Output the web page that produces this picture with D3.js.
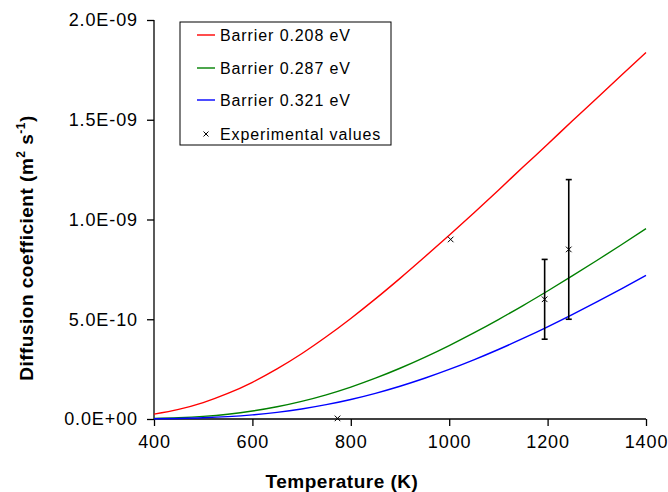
<!DOCTYPE html>
<html>
<head>
<meta charset="utf-8">
<script src="https://cdn.jsdelivr.net/npm/d3@7"></script>
<style>
  body { margin: 0; background: #fff; }
  text { font-family: "Liberation Sans", Arial, sans-serif; fill: #000; }
</style>
</head>
<body>
<div id="chart"></div>
<script>
// temperatures (K) the curves are sampled at
const temps = [400, 450, 500, 550, 600, 650, 700, 750, 800, 850, 900, 950, 1000,
  1050, 1100, 1150, 1200, 1250, 1300, 1350, 1400];

// diffusion coefficient, m2/s
const barrier208 = [2.46e-11, 4.83e-11, 8.24e-11, 1.28e-10, 1.84e-10, 2.51e-10, 3.27e-10,
  4.12e-10, 5.04e-10, 6.02e-10, 7.05e-10, 8.12e-10, 9.21e-10, 1.033e-9, 1.147e-9,
  1.263e-9, 1.377e-9, 1.494e-9, 1.608e-9, 1.723e-9, 1.837e-9];
const barrier287 = [2.5e-12, 6.3e-12, 1.32e-11, 2.41e-11, 4.0e-11, 6.13e-11, 8.84e-11,
  1.213e-10, 1.601e-10, 2.046e-10, 2.544e-10, 3.091e-10, 3.683e-10, 4.316e-10,
  4.986e-10, 5.687e-10, 6.417e-10, 7.17e-10, 7.944e-10, 8.735e-10, 9.54e-10];
const barrier321 = [9e-13, 2.6e-12, 6.0e-12, 1.18e-11, 2.07e-11, 3.34e-11, 5.03e-11,
  7.18e-11, 9.79e-11, 1.287e-10, 1.642e-10, 2.041e-10, 2.484e-10, 2.966e-10,
  3.484e-10, 4.037e-10, 4.62e-10, 5.232e-10, 5.867e-10, 6.523e-10, 7.199e-10];

const seriesNames = ["Barrier 0.208 eV", "Barrier 0.287 eV", "Barrier 0.321 eV"];
const seriesColors = ["#ff0000", "#008000", "#0000ff"];

// experimental points with error bars
const expT = [773, 1003, 1194, 1243];
const expD = [0.3e-11, 9.0e-10, 6.0e-10, 8.5e-10];
const expLow = [null, null, 4.0e-10, 5.0e-10];
const expHigh = [null, null, 8.0e-10, 1.2e-9];

const xTicks = [400, 600, 800, 1000, 1200, 1400];
const yTicks = [0, 5e-10, 1e-9, 1.5e-9, 2e-9];
const yTickLabels = ["0.0E+00", "5.0E-10", "1.0E-09", "1.5E-09", "2.0E-09"];

const W = 668, H = 492;
const margin = {top: 20, right: 22, bottom: 73, left: 154};
const width = W - margin.left - margin.right,
      height = H - margin.top - margin.bottom;

const svg = d3.select("#chart").append("svg")
  .attr("width", W).attr("height", H);
const g = svg.append("g")
  .attr("transform", `translate(${margin.left},${margin.top})`);

const x = d3.scaleLinear().domain([400, 1400]).range([0, width]);
const y = d3.scaleLinear().domain([0, 2e-9]).range([height, 0]);

// axes
const xAxis = g.append("g")
  .attr("transform", `translate(0,${height})`)
  .call(d3.axisBottom(x).tickValues(xTicks).tickSize(7).tickSizeOuter(0).tickPadding(9)
    .tickFormat(d3.format("d")));
const yAxis = g.append("g")
  .call(d3.axisLeft(y).tickValues(yTicks).tickSize(7).tickSizeOuter(0).tickPadding(9)
    .tickFormat((d, i) => yTickLabels[i]));
[xAxis, yAxis].forEach(a => {
  a.selectAll("path, line").attr("stroke", "#000").attr("stroke-width", 1.3);
  a.selectAll("text")
    .style("font-family", "Liberation Sans, Arial, sans-serif")
    .style("font-size", "18px")
    .style("letter-spacing", "0.9px")
    .attr("fill", "#000");
});
xAxis.select(".domain").attr("d", `M0,0H${width}`);
yAxis.select(".domain").attr("d", `M0,${height}V0`);

// curves
const curves = [barrier208, barrier287, barrier321];
const line = d3.line()
  .x(d => x(d[0])).y(d => y(d[1]))
  .curve(d3.curveMonotoneX);
curves.forEach((vals, i) => {
  g.append("path")
    .datum(temps.map((t, j) => [t, vals[j]]))
    .attr("fill", "none")
    .attr("stroke", seriesColors[i])
    .attr("stroke-width", 1.4)
    .attr("d", line);
});

// error bars
expT.forEach((t, i) => {
  if (expLow[i] == null) return;
  const cx = x(t);
  g.append("line")
    .attr("x1", cx).attr("x2", cx)
    .attr("y1", y(expLow[i])).attr("y2", y(expHigh[i]))
    .attr("stroke", "#000").attr("stroke-width", 1.6);
  [expLow[i], expHigh[i]].forEach(v => {
    g.append("line")
      .attr("x1", cx - 3).attr("x2", cx + 3)
      .attr("y1", y(v)).attr("y2", y(v))
      .attr("stroke", "#000").attr("stroke-width", 1.6);
  });
});

// experimental markers
const cross = d3.symbol().type(d3.symbolX).size(22);
g.selectAll(".exp")
  .data(expT.map((t, i) => [t, expD[i]]))
  .join("path")
  .attr("class", "exp")
  .attr("transform", d => `translate(${x(d[0])},${y(d[1])})`)
  .attr("d", cross)
  .attr("fill", "none")
  .attr("stroke", "#000")
  .attr("stroke-width", 1);

// legend
const legend = svg.append("g").attr("transform", "translate(180,22)");
legend.append("rect")
  .attr("width", 211).attr("height", 123)
  .attr("fill", "#fff").attr("stroke", "#000").attr("stroke-width", 1);
const rowY = [13, 46, 78, 112];
seriesNames.forEach((name, i) => {
  legend.append("line")
    .attr("x1", 17).attr("x2", 35)
    .attr("y1", rowY[i]).attr("y2", rowY[i])
    .attr("stroke", seriesColors[i]).attr("stroke-width", 1.4);
  legend.append("text")
    .attr("x", 40).attr("y", rowY[i] + 6)
    .style("font-size", "16px").style("letter-spacing", "0.9px")
    .text(name);
});
legend.append("path")
  .attr("transform", `translate(26,${rowY[3]})`)
  .attr("d", d3.symbol().type(d3.symbolX).size(18))
  .attr("fill", "none").attr("stroke", "#000").attr("stroke-width", 1);
legend.append("text")
  .attr("x", 40).attr("y", rowY[3] + 6)
  .style("font-size", "16px").style("letter-spacing", "0.9px")
  .text("Experimental values");

// axis titles
svg.append("text")
  .attr("x", 342).attr("y", 488)
  .attr("text-anchor", "middle")
  .style("font-size", "19px").style("font-weight", "bold").style("letter-spacing", "0.5px")
  .text("Temperature (K)");

const yTitle = svg.append("text")
  .attr("transform", "translate(33,248) rotate(-90)")
  .attr("text-anchor", "middle")
  .style("font-size", "19px").style("font-weight", "bold").style("letter-spacing", "0.5px");
yTitle.append("tspan").text("Diffusion coefficient (m");
yTitle.append("tspan").attr("dy", -8).style("font-size", "12px").text("2");
yTitle.append("tspan").attr("dy", 8).text(" s");
yTitle.append("tspan").attr("dy", -8).style("font-size", "12px").text("-1");
yTitle.append("tspan").attr("dy", 8).text(")");
</script>
</body>
</html>
